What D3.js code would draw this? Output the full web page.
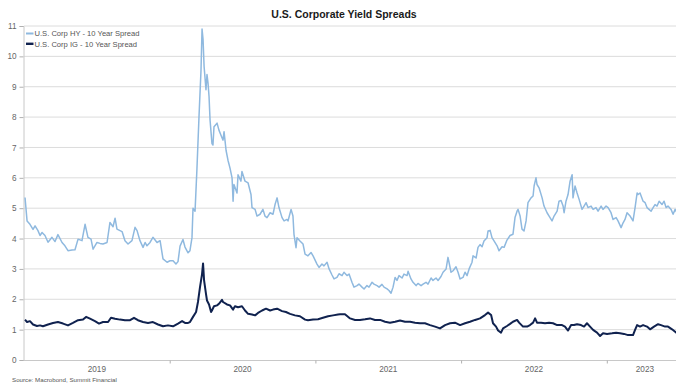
<!DOCTYPE html>
<html>
<head>
<meta charset="utf-8">
<script src="https://cdn.jsdelivr.net/npm/d3@7"></script>
<style>
  html, body { margin: 0; padding: 0; background: #fff; }
  svg { display: block; font-family: "Liberation Sans", Arial, sans-serif; }
</style>
</head>
<body>
<svg id="chart" width="676" height="385"></svg>
<script>
// Time is stored as decimal years; spreads are in percentage points.
const hyTime = [
  2019.007, 2019.021, 2019.041, 2019.062, 2019.076, 2019.096, 2019.110, 2019.124, 2019.144, 2019.165,
  2019.192, 2019.213, 2019.233, 2019.261, 2019.281, 2019.302, 2019.329, 2019.350, 2019.371, 2019.398,
  2019.419, 2019.439, 2019.460, 2019.474, 2019.501, 2019.522, 2019.542, 2019.570, 2019.590, 2019.611,
  2019.625, 2019.638, 2019.673, 2019.693, 2019.714, 2019.741, 2019.762, 2019.776, 2019.796, 2019.817,
  2019.831, 2019.844, 2019.865, 2019.885, 2019.913, 2019.934, 2019.954, 2019.982, 2020.002, 2020.023,
  2020.043, 2020.057, 2020.071, 2020.091, 2020.105, 2020.126, 2020.139, 2020.153, 2020.160, 2020.174,
  2020.187, 2020.201, 2020.215, 2020.222, 2020.229, 2020.236, 2020.249, 2020.256, 2020.263, 2020.270,
  2020.277, 2020.290, 2020.297, 2020.304, 2020.325, 2020.338, 2020.352, 2020.366, 2020.373, 2020.387,
  2020.400, 2020.414, 2020.428, 2020.435, 2020.441, 2020.462, 2020.469, 2020.489, 2020.496, 2020.517,
  2020.538, 2020.558, 2020.565, 2020.586, 2020.599, 2020.620, 2020.640, 2020.654, 2020.668, 2020.689,
  2020.709, 2020.723, 2020.737, 2020.750, 2020.771, 2020.785, 2020.805, 2020.812, 2020.833, 2020.846,
  2020.853, 2020.867, 2020.874, 2020.894, 2020.915, 2020.929, 2020.949, 2020.970, 2020.984, 2021.011,
  2021.025, 2021.045, 2021.059, 2021.080, 2021.094, 2021.114, 2021.128, 2021.148, 2021.162, 2021.183,
  2021.196, 2021.217, 2021.231, 2021.251, 2021.265, 2021.286, 2021.299, 2021.320, 2021.334, 2021.354,
  2021.368, 2021.389, 2021.402, 2021.423, 2021.437, 2021.457, 2021.471, 2021.492, 2021.505, 2021.519,
  2021.533, 2021.547, 2021.560, 2021.574, 2021.595, 2021.608, 2021.629, 2021.636, 2021.656, 2021.670,
  2021.691, 2021.704, 2021.725, 2021.739, 2021.759, 2021.773, 2021.794, 2021.807, 2021.828, 2021.842,
  2021.862, 2021.876, 2021.897, 2021.910, 2021.917, 2021.931, 2021.945, 2021.965, 2021.979, 2021.993,
  2022.013, 2022.027, 2022.041, 2022.055, 2022.075, 2022.082, 2022.103, 2022.116, 2022.130, 2022.144,
  2022.157, 2022.178, 2022.185, 2022.199, 2022.212, 2022.226, 2022.247, 2022.260, 2022.281, 2022.295,
  2022.315, 2022.336, 2022.356, 2022.370, 2022.384, 2022.391, 2022.405, 2022.418, 2022.432, 2022.446,
  2022.459, 2022.480, 2022.494, 2022.501, 2022.514, 2022.521, 2022.535, 2022.556, 2022.569, 2022.590,
  2022.604, 2022.624, 2022.638, 2022.659, 2022.672, 2022.686, 2022.700, 2022.707, 2022.720, 2022.734,
  2022.748, 2022.762, 2022.768, 2022.782, 2022.796, 2022.810, 2022.830, 2022.844, 2022.858, 2022.871,
  2022.892, 2022.906, 2022.926, 2022.940, 2022.961, 2022.974, 2022.995, 2023.009, 2023.029, 2023.043,
  2023.064, 2023.077, 2023.098, 2023.112, 2023.125, 2023.139, 2023.160, 2023.180, 2023.194, 2023.208,
  2023.215, 2023.228, 2023.249, 2023.263, 2023.276, 2023.290, 2023.304, 2023.318, 2023.331, 2023.345,
  2023.359, 2023.379, 2023.393, 2023.407, 2023.420, 2023.441, 2023.455, 2023.469, 2023.482
];
const hySpread = [
  5.35, 4.58, 4.47, 4.30, 4.42, 4.26, 4.10, 4.20, 4.10, 3.88,
  4.04, 3.90, 4.13, 3.87, 3.76, 3.60, 3.62, 3.63, 3.98, 3.93,
  4.47, 4.04, 3.98, 3.65, 3.87, 3.84, 3.82, 3.87, 4.53, 4.39,
  4.67, 4.31, 4.23, 3.93, 3.82, 3.93, 4.37, 4.26, 3.93, 3.71,
  3.87, 3.76, 3.87, 4.04, 3.87, 3.93, 3.33, 3.22, 3.27, 3.27,
  3.16, 3.24, 3.75, 3.97, 3.72, 3.53, 3.60, 4.03, 5.00, 4.90,
  6.30, 8.00, 9.56, 10.90, 10.55, 9.67, 8.90, 9.40, 9.12, 8.68,
  7.90, 7.13, 7.08, 7.68, 7.80, 7.57, 7.40, 7.24, 7.52, 6.90,
  6.58, 6.32, 6.00, 5.23, 5.78, 5.50, 6.10, 5.89, 6.21, 5.89,
  5.83, 5.45, 5.02, 4.96, 4.74, 4.80, 4.96, 4.74, 4.69, 4.85,
  4.80, 5.12, 5.34, 5.02, 4.69, 4.58, 4.63, 4.58, 4.96, 4.74,
  4.14, 3.70, 4.03, 3.92, 3.82, 3.49, 3.43, 3.54, 3.43, 3.16,
  3.05, 3.16, 3.10, 3.22, 3.00, 2.80, 2.67, 2.72, 2.84, 2.78,
  2.89, 2.78, 2.83, 2.56, 2.40, 2.45, 2.50, 2.40, 2.34, 2.45,
  2.40, 2.56, 2.50, 2.45, 2.40, 2.49, 2.40, 2.34, 2.29, 2.20,
  2.40, 2.72, 2.62, 2.78, 2.70, 2.83, 2.78, 2.92, 2.67, 2.56,
  2.45, 2.52, 2.45, 2.50, 2.56, 2.50, 2.70, 2.62, 2.70, 2.62,
  2.75, 2.89, 3.00, 3.38, 3.22, 2.89, 2.94, 3.07, 2.89, 2.67,
  2.72, 2.89, 2.78, 3.00, 3.22, 3.43, 3.36, 3.71, 3.80, 3.73,
  3.92, 4.03, 4.25, 4.27, 4.03, 3.92, 3.76, 3.60, 3.73, 3.71,
  3.95, 4.10, 4.14, 4.69, 4.90, 4.96, 4.74, 4.31, 4.25, 4.58,
  5.18, 5.34, 5.40, 5.73, 6.00, 5.78, 5.67, 5.34, 5.07, 4.85,
  4.74, 4.58, 4.74, 4.90, 5.23, 5.25, 5.07, 4.85, 5.23, 5.45,
  5.89, 6.10, 5.34, 5.73, 5.50, 5.29, 4.96, 5.07, 5.18, 5.02,
  5.07, 4.96, 5.02, 4.90, 5.07, 4.96, 5.07, 5.02, 4.85, 4.63,
  4.69, 4.58, 4.36, 4.52, 4.63, 4.85, 4.74, 4.58, 5.02, 5.50,
  5.45, 5.50, 5.23, 5.18, 5.02, 4.96, 4.90, 5.02, 5.12, 5.07,
  5.23, 5.12, 5.23, 5.02, 5.07, 4.96, 4.80, 4.96, 4.85
];

const igTime = [
  2019.007, 2019.021, 2019.041, 2019.062, 2019.089, 2019.110, 2019.130, 2019.165, 2019.199, 2019.233,
  2019.268, 2019.302, 2019.336, 2019.371, 2019.405, 2019.426, 2019.453, 2019.487, 2019.515, 2019.542,
  2019.577, 2019.597, 2019.625, 2019.659, 2019.693, 2019.728, 2019.755, 2019.782, 2019.817, 2019.851,
  2019.885, 2019.920, 2019.954, 2019.988, 2020.023, 2020.057, 2020.085, 2020.105, 2020.126, 2020.139,
  2020.160, 2020.181, 2020.194, 2020.208, 2020.222, 2020.229, 2020.236, 2020.249, 2020.256, 2020.270,
  2020.284, 2020.290, 2020.304, 2020.325, 2020.338, 2020.359, 2020.366, 2020.393, 2020.414, 2020.435,
  2020.448, 2020.469, 2020.496, 2020.517, 2020.538, 2020.565, 2020.586, 2020.606, 2020.634, 2020.661,
  2020.689, 2020.709, 2020.737, 2020.771, 2020.798, 2020.826, 2020.860, 2020.894, 2020.929, 2020.949,
  2020.984, 2021.018, 2021.052, 2021.087, 2021.121, 2021.155, 2021.169, 2021.203, 2021.238, 2021.272,
  2021.306, 2021.341, 2021.375, 2021.409, 2021.444, 2021.478, 2021.512, 2021.547, 2021.581, 2021.615,
  2021.650, 2021.684, 2021.718, 2021.752, 2021.787, 2021.821, 2021.855, 2021.890, 2021.924, 2021.958,
  2021.993, 2022.027, 2022.061, 2022.096, 2022.130, 2022.164, 2022.185, 2022.206, 2022.219, 2022.240,
  2022.254, 2022.274, 2022.288, 2022.315, 2022.336, 2022.356, 2022.384, 2022.398, 2022.425, 2022.453,
  2022.473, 2022.494, 2022.508, 2022.521, 2022.549, 2022.576, 2022.604, 2022.631, 2022.659, 2022.693,
  2022.713, 2022.734, 2022.755, 2022.775, 2022.796, 2022.823, 2022.844, 2022.864, 2022.885, 2022.906,
  2022.933, 2022.954, 2022.974, 2023.002, 2023.036, 2023.064, 2023.091, 2023.118, 2023.146, 2023.180,
  2023.194, 2023.208, 2023.228, 2023.249, 2023.276, 2023.297, 2023.324, 2023.352, 2023.372, 2023.400,
  2023.420, 2023.448, 2023.469, 2023.482
];
const igSpread = [
  1.33, 1.25, 1.28, 1.17, 1.12, 1.14, 1.11, 1.17, 1.22, 1.25,
  1.20, 1.14, 1.22, 1.31, 1.33, 1.42, 1.36, 1.28, 1.20, 1.25,
  1.25, 1.39, 1.36, 1.33, 1.31, 1.31, 1.39, 1.31, 1.25, 1.22,
  1.25, 1.17, 1.11, 1.14, 1.11, 1.20, 1.28, 1.22, 1.22, 1.25,
  1.42, 1.58, 1.91, 2.40, 2.83, 3.18, 2.62, 2.18, 1.96, 1.83,
  1.58, 1.63, 1.77, 1.80, 1.85, 1.98, 1.91, 1.83, 1.80, 1.66,
  1.77, 1.74, 1.77, 1.63, 1.52, 1.50, 1.47, 1.55, 1.63, 1.69,
  1.63, 1.66, 1.69, 1.61, 1.58, 1.52, 1.47, 1.44, 1.33, 1.31,
  1.33, 1.34, 1.39, 1.44, 1.47, 1.50, 1.51, 1.51, 1.37, 1.32,
  1.32, 1.34, 1.37, 1.32, 1.32, 1.26, 1.23, 1.26, 1.30, 1.26,
  1.26, 1.23, 1.21, 1.21, 1.15, 1.10, 1.04, 1.15, 1.21, 1.23,
  1.15, 1.21, 1.26, 1.32, 1.37, 1.48, 1.56, 1.48, 1.21, 1.10,
  0.97, 0.90, 1.04, 1.12, 1.19, 1.26, 1.32, 1.23, 1.10, 1.10,
  1.15, 1.23, 1.37, 1.23, 1.23, 1.21, 1.23, 1.21, 1.15, 1.15,
  1.10, 0.97, 1.15, 1.15, 1.18, 1.15, 1.10, 1.21, 1.10, 0.99,
  0.90, 0.79, 0.88, 0.86, 0.88, 0.90, 0.88, 0.86, 0.82, 0.82,
  0.99, 1.15, 1.10, 1.15, 1.10, 1.01, 1.10, 1.18, 1.15, 1.10,
  1.10, 1.01, 0.93, 0.88
];

const yTicks = [0, 1, 2, 3, 4, 5, 6, 7, 8, 9, 10, 11];
const yearBreaks = [2020, 2021, 2022, 2023];
const yearLabels = ["2019", "2020", "2021", "2022", "2023"];
const seriesNames = ["U.S. Corp HY - 10 Year Spread", "U.S. Corp IG - 10 Year Spread"];
const seriesColors = ["#8fb9df", "#10224f"];
const titleText = "U.S. Corporate Yield Spreads";
const sourceText = "Source: Macrobond, Summit Financial";

const svg = d3.select("#chart");
const plot = { left: 24, right: 683, top: 26, bottom: 360 };
const xStart = 2019, xEnd = 2023.523;

const x = d3.scaleLinear().domain([xStart, xEnd]).range([plot.left, plot.right]);
const y = d3.scaleLinear().domain([0, 11]).range([plot.bottom, plot.top]);

// Horizontal gridlines
svg.append("g")
  .selectAll("line")
  .data(yTicks.filter(d => d > 0))
  .join("line")
  .attr("x1", plot.left).attr("x2", 676)
  .attr("y1", d => y(d)).attr("y2", d => y(d))
  .attr("stroke", "#dcdcdc").attr("stroke-width", 1);

// Y axis
const yAxis = svg.append("g")
  .attr("transform", `translate(${plot.left - 0.5},0)`)
  .call(d3.axisLeft(y).tickValues(yTicks).tickSize(4).tickPadding(3).tickFormat(d3.format("d")));
yAxis.select(".domain").attr("stroke", "#c8c8c8");
yAxis.selectAll(".tick line").attr("stroke", "#b0b0b0");
yAxis.selectAll(".tick text")
  .attr("fill", "#666").attr("font-size", 8.2)
  .attr("font-family", "'Liberation Sans', Arial, sans-serif");

// X axis line with year-boundary ticks
const xAxis = svg.append("g")
  .attr("transform", `translate(0,${plot.bottom + 0.5})`)
  .call(d3.axisBottom(x).tickValues(yearBreaks).tickSize(3).tickFormat(""));
xAxis.select(".domain").attr("stroke", "#c8c8c8").attr("d", `M${plot.left},0H676`);
xAxis.selectAll(".tick line").attr("stroke", "#b0b0b0");

// Year labels centred on each year's span
svg.append("g")
  .selectAll("text")
  .data(yearLabels)
  .join("text")
  .attr("x", d => {
    const a = Math.max(+d, xStart), b = Math.min(+d + 1, xEnd);
    return x((a + b) / 2);
  })
  .attr("y", 372)
  .attr("text-anchor", "middle")
  .attr("fill", "#666").attr("font-size", 8.2)
  .text(d => d);

// Lines
const line = d3.line().x(d => x(d[0])).y(d => y(d[1]));
const hyData = d3.zip(hyTime, hySpread);
const igData = d3.zip(igTime, igSpread);

svg.append("defs").append("clipPath").attr("id", "clip")
  .append("rect").attr("x", plot.left).attr("y", 0).attr("width", 676 - plot.left).attr("height", plot.bottom);

svg.append("path").datum(hyData)
  .attr("clip-path", "url(#clip)")
  .attr("fill", "none").attr("stroke", seriesColors[0])
  .attr("stroke-width", 1.5).attr("stroke-linejoin", "round")
  .attr("d", line);

svg.append("path").datum(igData)
  .attr("clip-path", "url(#clip)")
  .attr("fill", "none").attr("stroke", seriesColors[1])
  .attr("stroke-width", 2).attr("stroke-linejoin", "round")
  .attr("d", line);

// Title
svg.append("text")
  .attr("x", 344).attr("y", 17.5)
  .attr("text-anchor", "middle")
  .attr("font-size", 10.5).attr("font-weight", "bold").attr("fill", "#1a1a1a")
  .text(titleText);

// Legend
const legend = svg.append("g");
seriesNames.forEach((name, i) => {
  const ly = 33.5 + i * 10.3;
  legend.append("line")
    .attr("x1", 26).attr("x2", 33.5).attr("y1", ly).attr("y2", ly)
    .attr("stroke", seriesColors[i]).attr("stroke-width", i === 0 ? 2 : 2.4);
  legend.append("text")
    .attr("x", 34.5).attr("y", ly + 2.7)
    .attr("font-size", 7.6).attr("fill", "#555")
    .text(name);
});

// Source note
svg.append("text")
  .attr("x", 12).attr("y", 382)
  .attr("font-size", 6.2).attr("fill", "#555")
  .text(sourceText);
</script>
</body>
</html>
